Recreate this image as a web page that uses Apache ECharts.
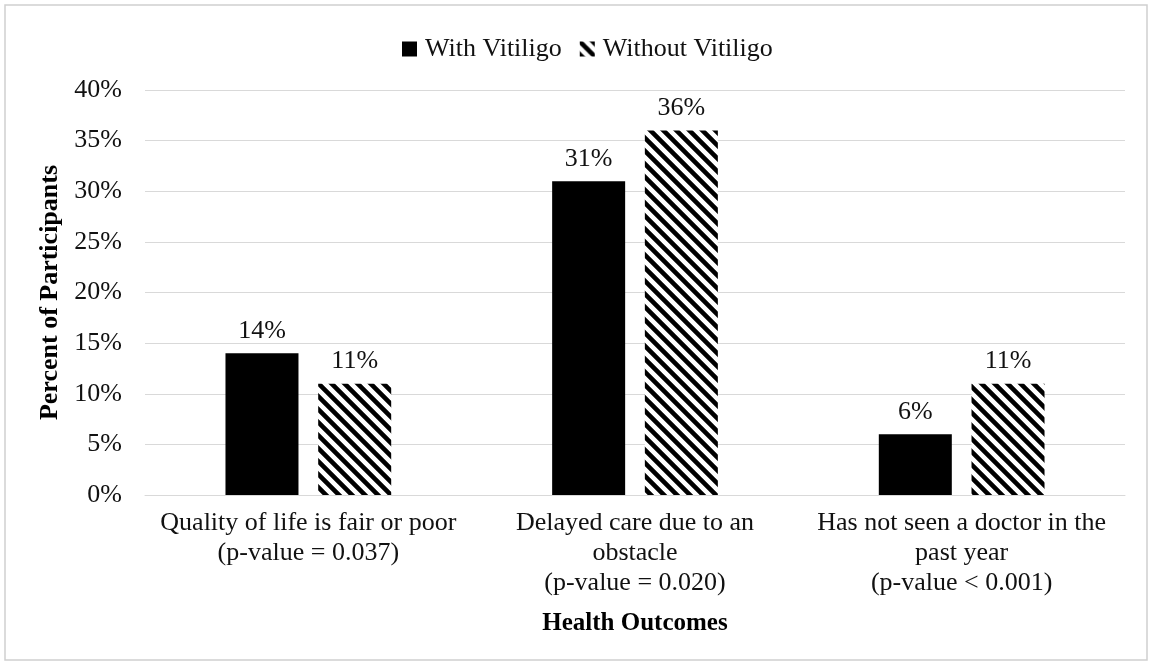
<!DOCTYPE html>
<html>
<head>
<meta charset="utf-8">
<script src="https://cdn.jsdelivr.net/npm/echarts@6/dist/echarts.min.js"></script>
<style>
html, body { margin: 0; padding: 0; background: #fff; }
#chart-1 { width: 1152px; height: 665px; }
</style>
</head>
<body>
<div id="chart-1"></div>
<script>
var categories = [
    'Quality of life is fair or poor\n(p-value = 0.037)',
    'Delayed care due to an\nobstacle\n(p-value = 0.020)',
    'Has not seen a doctor in the\npast year\n(p-value < 0.001)'
];
var withVitiligo = [14, 31, 6];
var withoutVitiligo = [11, 36, 11];
var yTicks = [0, 5, 10, 15, 20, 25, 30, 35, 40];

// diagonal hatch pattern (top-left to bottom-right)
function makeHatch() {
    var s = 13;
    var c = document.createElement('canvas');
    c.width = s; c.height = s;
    var ctx = c.getContext('2d');
    ctx.fillStyle = '#fff';
    ctx.fillRect(0, 0, s, s);
    ctx.strokeStyle = '#000';
    ctx.lineWidth = 4.6;
    ctx.beginPath();
    ctx.moveTo(-s, 0); ctx.lineTo(s * 2, s * 3);   // y = x + s
    ctx.moveTo(-s, -s); ctx.lineTo(s * 2, s * 2);  // y = x
    ctx.moveTo(0, -s); ctx.lineTo(s * 3, s * 2);   // y = x - s
    ctx.stroke();
    return c;
}
var hatch = { image: makeHatch(), repeat: 'repeat' };

var font = 'Liberation Serif';
var dom = document.getElementById('chart-1');
var myChart = echarts.init(dom);

var labelStyle = {
    show: true,
    position: 'top',
    distance: 9,
    fontFamily: font,
    fontSize: 26,
    color: '#111',
    formatter: '{c}%'
};

var option = {
    backgroundColor: '#fff',
    textStyle: { fontFamily: font },
    graphic: [{
        type: 'rect',
        shape: { x: 5, y: 5, width: 1142, height: 655 },
        style: { fill: 'none', stroke: '#d0d0d0', lineWidth: 1.5 },
        silent: true
    }],
    legend: {
        top: 31,
        left: 397,
        itemWidth: 15,
        itemHeight: 15,
        itemGap: 18,
        textStyle: { fontFamily: font, fontSize: 26, color: '#111', padding: [0, 0, 0, 3] },
        data: [
            { name: 'With Vitiligo', icon: 'rect' },
            { name: 'Without Vitiligo', icon: 'rect' }
        ]
    },
    grid: { left: 145, right: 27, top: 90, bottom: 170 },
    xAxis: {
        type: 'category',
        data: categories,
        name: 'Health Outcomes',
        nameLocation: 'middle',
        nameGap: 116,
        nameTextStyle: { fontFamily: font, fontSize: 25, fontWeight: 'bold', color: '#000' },
        axisLine: { lineStyle: { color: '#d9d9d9', width: 1 } },
        axisTick: { show: false },
        axisLabel: {
            interval: 0,
            margin: 13,
            fontFamily: font,
            fontSize: 26,
            lineHeight: 30,
            color: '#111'
        }
    },
    yAxis: {
        type: 'value',
        min: 0,
        max: 40,
        interval: 5,
        name: 'Percent of Participants',
        nameLocation: 'middle',
        nameGap: 79,
        nameTextStyle: { fontFamily: font, fontSize: 26, fontWeight: 'bold', color: '#000' },
        axisLine: { show: false },
        axisTick: { show: false },
        splitLine: { lineStyle: { color: '#d9d9d9', width: 1 } },
        axisLabel: {
            margin: 23,
            fontFamily: font,
            fontSize: 26,
            color: '#111',
            formatter: function (v) { return yTicks.indexOf(v) >= 0 ? v + '%' : ''; }
        }
    },
    series: [
        {
            name: 'With Vitiligo',
            type: 'bar',
            barWidth: 73,
            barGap: '27%',
            itemStyle: { color: '#000' },
            label: labelStyle,
            data: withVitiligo
        },
        {
            name: 'Without Vitiligo',
            type: 'bar',
            barWidth: 73,
            barGap: '27%',
            itemStyle: { color: hatch },
            label: labelStyle,
            data: withoutVitiligo
        }
    ]
};
myChart.setOption(option);
</script>
</body>
</html>
